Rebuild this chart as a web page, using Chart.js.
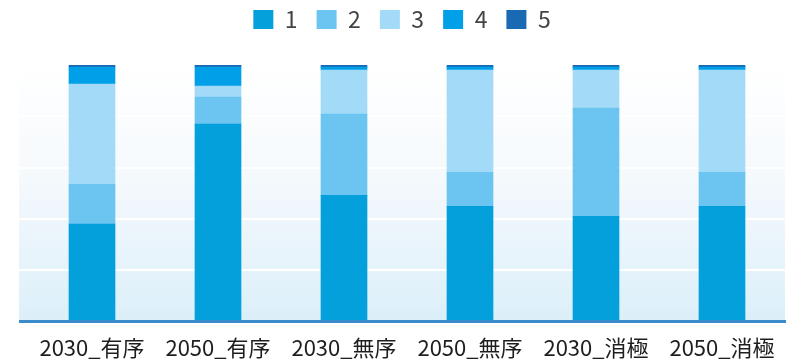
<!DOCTYPE html>
<html>
<head>
<meta charset="utf-8">
<script src="https://cdn.jsdelivr.net/npm/chart.js@4/dist/chart.umd.min.js"></script>
<style>
  html, body { margin: 0; padding: 0; background: #ffffff; }
  #wrap { width: 801px; height: 361px; }
</style>
</head>
<body>
<div id="wrap"><canvas id="myChart" width="801" height="361"></canvas></div>
<script>
const categories = ['2030_有序', '2050_有序', '2030_無序', '2050_無序', '2030_消極', '2050_消極'];
const seriesNames = ['1', '2', '3', '4', '5'];
const series1 = [38.0, 77.0, 49.2, 44.9, 41.0, 44.9];
const series2 = [15.5, 10.5, 31.7, 13.3, 42.2, 13.3];
const series3 = [39.1, 4.3, 17.1, 39.8, 14.8, 39.8];
const series4 = [6.6, 7.4, 1.2, 1.2, 1.2, 1.2];
const series5 = [0.8, 0.8, 0.8, 0.8, 0.8, 0.8];
const colors = ['#03a0dc', '#6cc5f0', '#a3daf7', '#00a0e9', '#1a69b3'];

// extra gap under the legend
const legendGap = {
    id: 'legendGap',
    beforeInit: function (chart) {
        const origFit = chart.legend.fit;
        chart.legend.fit = function () {
            origFit.bind(chart.legend)();
            this.height += 24;
        };
    }
};

const bgPlugin = {
    id: 'bgPlugin',
    beforeDatasetsDraw: function (chart) {
        const ctx = chart.ctx;
        const area = chart.chartArea;
        const left = chart.scales.y.left;
        const g = ctx.createLinearGradient(0, area.top, 0, area.bottom);
        g.addColorStop(0, '#ffffff');
        g.addColorStop(0.4, '#f6fafd');
        g.addColorStop(0.6, '#eef6fc');
        g.addColorStop(0.8, '#e5f3fb');
        g.addColorStop(1, '#dbeff9');
        ctx.save();
        ctx.fillStyle = g;
        ctx.fillRect(left, area.top, area.right - left, area.bottom - area.top);
        // white grid lines over the gradient
        ctx.strokeStyle = '#ffffff';
        ctx.lineWidth = 2;
        chart.scales.y.ticks.forEach(function (t) {
            const y = Math.round(chart.scales.y.getPixelForValue(t.value));
            ctx.beginPath();
            ctx.moveTo(left, y);
            ctx.lineTo(area.right, y);
            ctx.stroke();
        });
        ctx.restore();
    },
    afterDatasetsDraw: function (chart) {
        const ctx = chart.ctx;
        const area = chart.chartArea;
        const left = chart.scales.y.left;
        ctx.save();
        ctx.strokeStyle = '#3a8bcb';
        ctx.lineWidth = 3;
        ctx.beginPath();
        ctx.moveTo(left, area.bottom);
        ctx.lineTo(area.right + 1, area.bottom);
        ctx.stroke();
        ctx.restore();
    }
};

const ctx = document.getElementById('myChart').getContext('2d');
const allSeries = [series1, series2, series3, series4, series5];

const myChart = new Chart(ctx, {
    type: 'bar',
    data: {
        labels: categories,
        datasets: allSeries.map(function (values, i) {
            return {
                label: seriesNames[i],
                data: values,
                backgroundColor: colors[i],
                borderWidth: 0,
                barThickness: 46
            };
        })
    },
    options: {
        responsive: false,
        animation: false,
        layout: {
            padding: { left: 19, right: 16, top: -11, bottom: -5 }
        },
        scales: {
            x: {
                stacked: true,
                grid: { display: false },
                border: { display: false },
                ticks: {
                    color: '#1e1e1e',
                    padding: 5,
                    font: { family: '"Noto Sans CJK JP", "Noto Sans", sans-serif', size: 22 }
                }
            },
            y: {
                stacked: true,
                min: 0,
                max: 100,
                ticks: { display: false, stepSize: 20 },
                border: { display: false },
                grid: { display: false, drawTicks: true, tickLength: 10 }
            }
        },
        plugins: {
            legend: {
                position: 'top',
                labels: {
                    boxWidth: 20,
                    boxHeight: 19,
                    padding: 19,
                    color: '#444444',
                    font: { family: '"Noto Sans CJK JP", "Noto Sans", sans-serif', size: 23 }
                }
            },
            tooltip: { enabled: false }
        }
    },
    plugins: [legendGap, bgPlugin]
});
</script>
</body>
</html>
